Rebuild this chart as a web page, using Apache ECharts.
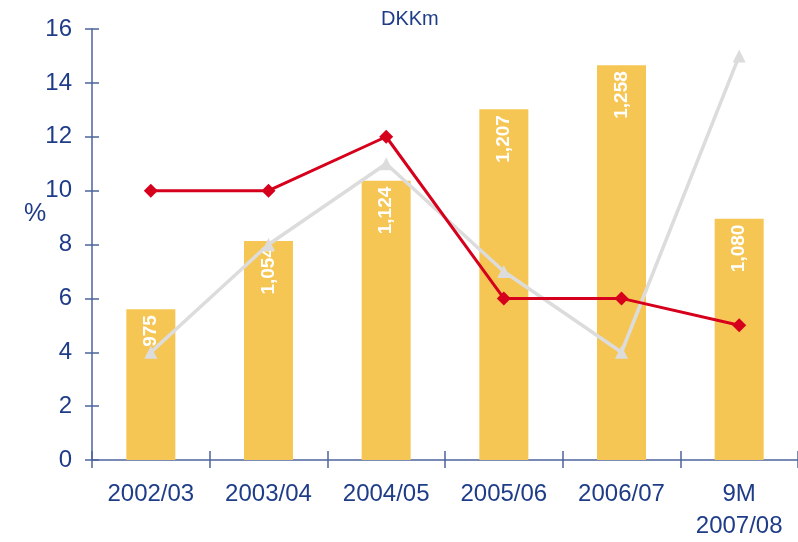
<!DOCTYPE html>
<html>
<head>
<meta charset="utf-8">
<script src="https://cdn.jsdelivr.net/npm/echarts@6/dist/echarts.min.js"></script>
<style>
  html, body { margin: 0; padding: 0; background: #fff; }
  #myChart { width: 798px; height: 542px; }
</style>
</head>
<body>
<div id="myChart"></div>
<script>
// data
var categories = ['2002/03', '2003/04', '2004/05', '2005/06', '2006/07', '9M\n2007/08'];
var revenue = [975, 1054, 1124, 1207, 1258, 1080];      // DKKm, bars
var redLine = [10, 10, 12, 6, 6, 5];                    // %
var greyLine = [4, 8, 11, 7, 4, 15];                    // %
var pctTicks = [0, 2, 4, 6, 8, 10, 12, 14, 16];

var navy = '#1f3c88';
var axisCol = '#4d649c';
var font = 'Liberation Sans, Arial, sans-serif';

var myChart = echarts.init(document.getElementById('myChart'));
myChart.setOption({
  animation: false,
  textStyle: { fontFamily: font },
  title: {
    text: 'DKKm', left: 376, top: 4,
    textStyle: { color: navy, fontSize: 20, fontWeight: 'normal', fontFamily: font }
  },
  graphic: [{
    type: 'text', left: 24, top: 202,
    style: { text: '%', fill: navy, fontSize: 25, fontFamily: font }
  }],
  grid: { left: 92, top: 29, width: 712, bottom: 82, containLabel: false },
  xAxis: [{
    type: 'category', data: categories,
    axisLine: { lineStyle: { color: axisCol, width: 1.5 } },
    axisTick: { show: true, length: 8, lineStyle: { color: axisCol, width: 1.5 } },
    axisLabel: { color: navy, fontSize: 24, margin: 18, lineHeight: 32 }
  }, {
    type: 'category', data: categories, position: 'bottom',
    axisLine: { show: false },
    axisTick: { show: true, inside: true, length: 9, lineStyle: { color: axisCol, width: 1.5 } },
    axisLabel: { show: false }
  }],
  yAxis: [{
    type: 'value', min: pctTicks[0], max: pctTicks[pctTicks.length - 1], interval: 2,
    axisLine: { show: true, lineStyle: { color: axisCol, width: 1.5 } },
    axisTick: { show: true, length: 7, lineStyle: { color: axisCol, width: 1.5 } },
    axisLabel: { color: navy, fontSize: 24, margin: 20 },
    splitLine: { show: false }
  }, {
    // hidden scale for the DKKm bars; also draws the inner half of the ticks
    type: 'value', min: 800, max: 1300, interval: 62.5, position: 'left',
    axisLine: { show: false },
    axisTick: { show: true, inside: true, length: 7, lineStyle: { color: axisCol, width: 1.5 } },
    axisLabel: { show: false },
    splitLine: { show: false }
  }],
  series: [{
    name: 'DKKm', type: 'bar', yAxisIndex: 1, data: revenue,
    barWidth: 49,
    itemStyle: { color: '#f6c655' },
    label: {
      show: true, position: 'insideTop', distance: 6, rotate: 90,
      align: 'right', verticalAlign: 'middle',
      color: '#fff', fontSize: 19, fontWeight: 'bold',
      formatter: function (p) { return echarts.format.addCommas(p.value); }
    },
    z: 1
  }, {
    name: 'grey', type: 'line', data: greyLine,
    symbol: 'triangle', symbolSize: 13,
    lineStyle: { color: '#dcdcdc', width: 3.5 },
    itemStyle: { color: '#dcdcdc' },
    z: 3
  }, {
    name: 'red', type: 'line', data: redLine,
    symbol: 'diamond', symbolSize: 14,
    lineStyle: { color: '#d6001c', width: 3 },
    itemStyle: { color: '#d6001c' },
    z: 4
  }]
});
</script>
</body>
</html>
